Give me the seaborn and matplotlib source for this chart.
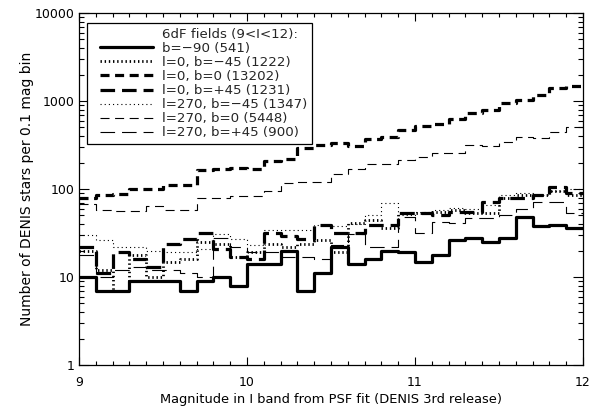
import matplotlib
matplotlib.use("Agg")
import matplotlib.pyplot as plt
from matplotlib.lines import Line2D
from matplotlib.legend_handler import HandlerLine2D
from matplotlib.ticker import LogLocator, MultipleLocator, NullFormatter
import pandas as pd
import seaborn as sns

# ---- data: counts per 0.1 mag bin (left bin edges) ----
bin_left = [9.0, 9.1, 9.2, 9.3, 9.4, 9.5, 9.6, 9.7, 9.8, 9.9,
            10.0, 10.1, 10.2, 10.3, 10.4, 10.5, 10.6, 10.7, 10.8, 10.9,
            11.0, 11.1, 11.2, 11.3, 11.4, 11.5, 11.6, 11.7, 11.8, 11.9]
bin_end = 12.0

b_m90 = [10, 7, 7, 9, 9, 9, 7, 9, 10, 8, 14, 14, 20, 7, 11,
         22, 14, 16, 20, 19, 15, 18, 26, 28, 25, 28, 48, 38, 39, 36]
l0_bm45 = [20, 12, 7, 18, 10, 15, 16, 25, 24, 17, 19, 24, 22, 24, 26,
           19, 41, 45, 36, 53, 53, 55, 58, 53, 53, 79, 85, 85, 95, 85]
l0_b0 = [78, 85, 88, 100, 100, 110, 110, 165, 170, 175, 170, 210, 220, 290, 320,
         335, 310, 370, 390, 470, 520, 545, 620, 730, 790, 950, 1040, 1160, 1390, 1500]
l0_bp45 = [22, 11, 19, 16, 13, 24, 27, 32, 21, 17, 16, 32, 29, 27, 39,
           32, 32, 39, 39, 53, 53, 50, 55, 55, 71, 79, 79, 85, 105, 90]
l270_bm45 = [30, 26, 22, 22, 20, 19, 19, 21, 31, 27, 23, 34, 34, 34, 39,
             38, 40, 50, 70, 50, 55, 58, 61, 60, 66, 85, 90, 85, 95, 100]
l270_b0 = [68, 58, 56, 56, 64, 58, 58, 80, 80, 83, 83, 95, 118, 120, 120,
           150, 170, 190, 190, 214, 232, 256, 256, 316, 306, 344, 387, 377, 449, 510]
l270_bp45 = [18, 10, 12, 13, 12, 12, 11, 10, 28, 22, 19, 19, 17, 17, 16,
             23, 31, 22, 22, 48, 32, 42, 41, 47, 47, 50, 59, 71, 71, 53]

labels = ["b=\u221290 (541)", "l=0, b=\u221245 (1222)", "l=0, b=0 (13202)",
          "l=0, b=+45 (1231)", "l=270, b=\u221245 (1347)", "l=270, b=0 (5448)",
          "l=270, b=+45 (900)"]
legend_title = "6dF fields (9<I<12):"
x_ticklabels = ["9", "10", "11", "12"]
y_ticklabels = ["1", "10", "100", "1000", "10000"]

sns.set_theme(style="ticks")
plt.rcParams["font.family"] = ["DejaVu Sans"]
plt.rcParams["lines.scale_dashes"] = False

FS = 9
LFS = 9.6
fig = plt.figure(figsize=(5.91, 4.11), dpi=100)
ax = fig.add_axes([79 / 591, 46 / 411, 504 / 591, 352 / 411])

thick, thin = 2.3, 0.8
series = [
    (b_m90, thick, "-"),
    (l0_bm45, 2.0, (0, (1.0, 2.0))),
    (l0_b0, thick, (0, (6.5, 4.0))),
    (l0_bp45, thick, (0, (10.5, 5.0))),
    (l270_bm45, thin, (0, (0.8, 2.2))),
    (l270_b0, thin, (0, (6.5, 4.0))),
    (l270_bp45, thin, (0, (10.5, 5.0))),
]

handles = [Line2D([], [], color="none")]
for vals, lw, ls in series:
    df = pd.DataFrame({"mag": bin_left + [bin_end], "n": vals + [vals[-1]]})
    sns.lineplot(data=df, x="mag", y="n", ax=ax, color="black", linewidth=lw,
                 linestyle=ls, drawstyle="steps-post", estimator=None,
                 legend=False)
    handles.append(Line2D([], [], color="black", linewidth=lw, linestyle=ls))

ax.set_yscale("log")
ax.set_xlim(9, 12)
ax.set_ylim(1, 10000)
ax.set_xticks([9, 10, 11, 12])
ax.set_xticklabels(x_ticklabels, fontsize=FS)
ax.xaxis.set_minor_locator(MultipleLocator(0.1))
ax.set_yticks([1, 10, 100, 1000, 10000])
ax.set_yticklabels(y_ticklabels, fontsize=FS)
ax.yaxis.set_minor_locator(LogLocator(base=10, subs=[2, 3, 4, 5, 6, 7, 8, 9]))
ax.yaxis.set_minor_formatter(NullFormatter())

ax.tick_params(which="both", direction="in", top=True, right=True,
               color="black", width=0.8, labelcolor="black")
ax.tick_params(axis="x", which="major", length=6, pad=8)
ax.tick_params(axis="x", which="minor", length=3)
ax.tick_params(axis="y", which="major", length=7, pad=3)
ax.tick_params(axis="y", which="minor", length=3.5)
for sp in ax.spines.values():
    sp.set_color("black")
    sp.set_linewidth(0.9)

ax.set_xlabel("Magnitude in I band from PSF fit (DENIS 3rd release)",
              fontsize=9.4, color="black", labelpad=3)
ax.set_ylabel("Number of DENIS stars per 0.1 mag bin", fontsize=10,
              color="black", labelpad=0.5)

hmap = {h: HandlerLine2D(marker_pad=0.6, numpoints=2) for h in handles}
leg = ax.legend(handles, [legend_title] + labels, loc="upper left",
                bbox_to_anchor=(0.016, 0.972), borderaxespad=0,
                fontsize=LFS, handlelength=5.2, handletextpad=0.05,
                labelspacing=0.08, borderpad=0.38, fancybox=False,
                framealpha=1, edgecolor="black", handler_map=hmap,
                numpoints=2)
leg.get_frame().set_linewidth(0.9)

fig.savefig("out.png", dpi=100)
